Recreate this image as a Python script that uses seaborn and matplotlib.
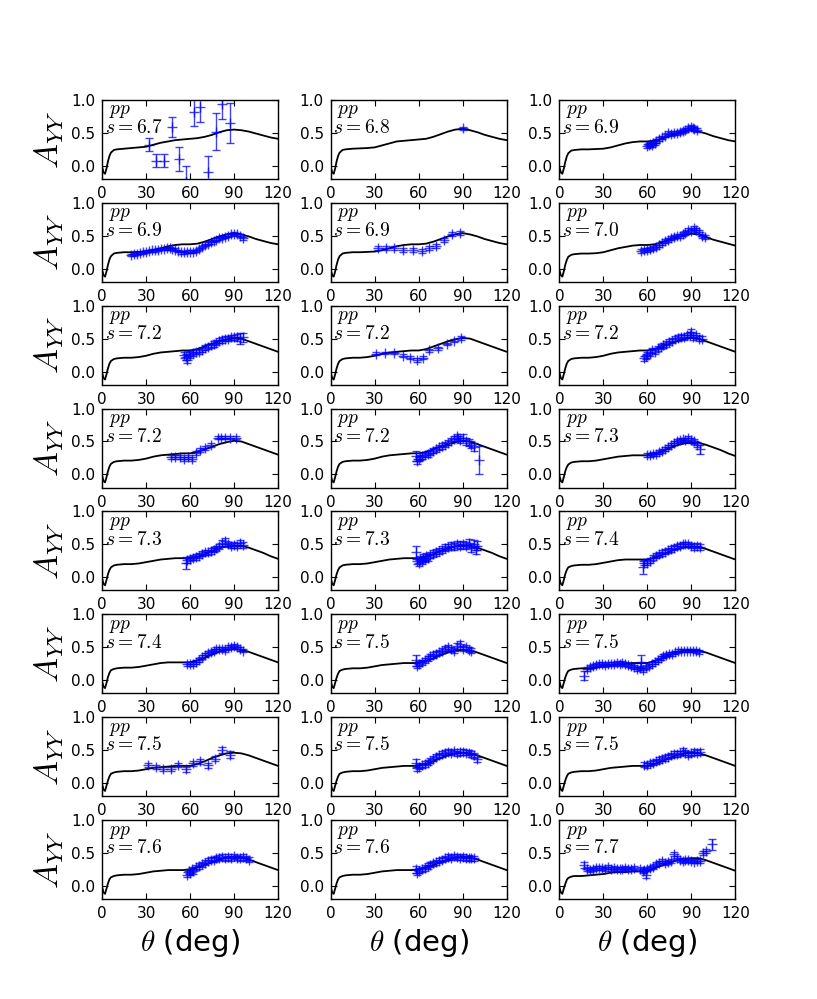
import matplotlib
matplotlib.use("Agg")
import matplotlib.pyplot as plt
import seaborn as sns
import numpy as np
import pandas as pd

# ---------------- data ----------------
theta_grid = [0, 1, 2, 3, 4, 5, 6, 8, 10, 15, 20, 25, 30, 35, 40, 45, 50, 55, 60,
              65, 70, 75, 80, 85, 90, 95, 100, 105, 110, 115, 120]

curve_67 = [-0.02, -0.10, -0.12, -0.04, 0.07, 0.15, 0.20, 0.24, 0.25, 0.26, 0.27, 0.28, 0.29, 0.32, 0.35, 0.37, 0.39, 0.40, 0.41, 0.42, 0.44, 0.47, 0.51, 0.54, 0.55, 0.54, 0.52, 0.49, 0.46, 0.43, 0.41]
curve_68 = [-0.02, -0.10, -0.12, -0.04, 0.07, 0.15, 0.20, 0.24, 0.25, 0.26, 0.265, 0.27, 0.28, 0.31, 0.34, 0.37, 0.38, 0.39, 0.40, 0.41, 0.44, 0.48, 0.52, 0.55, 0.56, 0.54, 0.51, 0.47, 0.44, 0.41, 0.39]
curve_69 = [-0.02, -0.10, -0.12, -0.04, 0.06, 0.14, 0.19, 0.23, 0.24, 0.25, 0.25, 0.255, 0.26, 0.28, 0.31, 0.34, 0.36, 0.37, 0.37, 0.38, 0.41, 0.45, 0.49, 0.52, 0.54, 0.52, 0.49, 0.45, 0.42, 0.39, 0.37]
curve_70 = [-0.02, -0.10, -0.12, -0.04, 0.06, 0.13, 0.18, 0.21, 0.22, 0.23, 0.23, 0.235, 0.25, 0.28, 0.31, 0.33, 0.35, 0.36, 0.36, 0.37, 0.40, 0.44, 0.48, 0.51, 0.53, 0.52, 0.48, 0.44, 0.41, 0.38, 0.35]
curve_72 = [-0.02, -0.10, -0.12, -0.04, 0.05, 0.12, 0.16, 0.19, 0.20, 0.21, 0.21, 0.22, 0.24, 0.27, 0.29, 0.30, 0.31, 0.32, 0.32, 0.34, 0.38, 0.42, 0.46, 0.49, 0.51, 0.50, 0.46, 0.42, 0.38, 0.34, 0.30]
curve_73 = [-0.02, -0.10, -0.12, -0.04, 0.05, 0.11, 0.15, 0.18, 0.19, 0.20, 0.20, 0.21, 0.23, 0.25, 0.27, 0.28, 0.29, 0.29, 0.29, 0.31, 0.35, 0.40, 0.44, 0.47, 0.48, 0.48, 0.45, 0.41, 0.37, 0.32, 0.28]
curve_74 = [-0.02, -0.10, -0.12, -0.04, 0.05, 0.11, 0.15, 0.17, 0.18, 0.19, 0.19, 0.20, 0.22, 0.24, 0.26, 0.27, 0.27, 0.27, 0.27, 0.30, 0.34, 0.39, 0.43, 0.46, 0.47, 0.46, 0.43, 0.39, 0.35, 0.31, 0.27]
curve_75 = [-0.02, -0.10, -0.12, -0.04, 0.04, 0.10, 0.14, 0.16, 0.17, 0.18, 0.18, 0.19, 0.21, 0.23, 0.24, 0.25, 0.26, 0.26, 0.26, 0.29, 0.33, 0.38, 0.42, 0.45, 0.46, 0.45, 0.42, 0.38, 0.34, 0.30, 0.26]
curve_76 = [-0.02, -0.10, -0.12, -0.04, 0.04, 0.10, 0.13, 0.15, 0.16, 0.17, 0.17, 0.18, 0.20, 0.22, 0.23, 0.24, 0.24, 0.24, 0.25, 0.28, 0.32, 0.36, 0.40, 0.43, 0.44, 0.43, 0.40, 0.36, 0.32, 0.28, 0.24]
curve_77 = [-0.02, -0.10, -0.12, -0.04, 0.03, 0.09, 0.12, 0.14, 0.15, 0.15, 0.16, 0.17, 0.18, 0.20, 0.21, 0.21, 0.22, 0.22, 0.23, 0.27, 0.31, 0.35, 0.39, 0.41, 0.42, 0.42, 0.39, 0.35, 0.31, 0.27, 0.23]

energy_labels = ["6.7", "6.8", "6.9", "6.9", "6.9", "7.0",
                 "7.2", "7.2", "7.2", "7.2", "7.2", "7.3",
                 "7.3", "7.3", "7.4", "7.4", "7.5", "7.5",
                 "7.5", "7.5", "7.5", "7.6", "7.6", "7.7"]

curves = {"6.7": curve_67, "6.8": curve_68, "6.9": curve_69, "7.0": curve_70,
          "7.2": curve_72, "7.3": curve_73, "7.4": curve_74, "7.5": curve_75,
          "7.6": curve_76, "7.7": curve_77}

# measured points (theta, A_YY, error)
p01 = [(32, 0.32, 0.10), (37, 0.08, 0.10), (42, 0.08, 0.10), (47.5, 0.59, 0.15), (52.5, 0.10, 0.18),
       (57.5, -0.25, 0.25), (62.5, 0.82, 0.22), (67, 0.89, 0.23), (72.5, -0.10, 0.25),
       (77.5, 0.52, 0.28), (82, 0.94, 0.23), (87, 0.65, 0.30)]
p02 = [(90, 0.57, 0.02)]
p03 = [(60, 0.30, 0.03), (61, 0.31, 0.03), (62, 0.33, 0.03), (63, 0.31, 0.03), (64, 0.34, 0.03),
       (65, 0.35, 0.03), (66, 0.37, 0.03), (68, 0.40, 0.03), (70, 0.43, 0.03), (72, 0.46, 0.03),
       (74, 0.50, 0.03), (76, 0.48, 0.03), (78, 0.50, 0.03), (80, 0.50, 0.03), (82, 0.51, 0.03),
       (84, 0.53, 0.03), (86, 0.55, 0.03), (88, 0.57, 0.03), (90, 0.59, 0.03), (91, 0.57, 0.03),
       (92, 0.56, 0.03), (94, 0.54, 0.03)]
p04 = [(20, 0.21, 0.02), (22, 0.22, 0.02), (24, 0.23, 0.02), (26, 0.24, 0.02), (28, 0.25, 0.02),
       (30, 0.26, 0.02), (32, 0.27, 0.02), (34, 0.28, 0.02), (36, 0.28, 0.02), (38, 0.29, 0.02),
       (40, 0.30, 0.02), (42, 0.30, 0.02), (44, 0.31, 0.02), (46, 0.31, 0.02), (48, 0.30, 0.02),
       (50, 0.29, 0.02), (52, 0.27, 0.02), (54, 0.25, 0.02), (56, 0.25, 0.02), (58, 0.26, 0.02),
       (60, 0.26, 0.02), (62, 0.26, 0.02), (64, 0.27, 0.02), (66, 0.30, 0.02), (68, 0.33, 0.02),
       (70, 0.36, 0.02), (72, 0.38, 0.02), (74, 0.40, 0.02), (76, 0.42, 0.02), (78, 0.44, 0.02),
       (80, 0.46, 0.02), (82, 0.47, 0.02), (84, 0.48, 0.02), (86, 0.50, 0.02), (88, 0.52, 0.02),
       (90, 0.53, 0.02), (92, 0.52, 0.02), (94, 0.50, 0.02), (96, 0.46, 0.02)]
p05 = [(32, 0.32, 0.03), (38, 0.32, 0.03), (43, 0.31, 0.03), (49, 0.29, 0.03), (56, 0.29, 0.03),
       (62.5, 0.27, 0.03), (67, 0.32, 0.03), (72, 0.35, 0.03), (77, 0.43, 0.03), (83, 0.53, 0.03),
       (88, 0.54, 0.03)]
p06 = [(56, 0.27, 0.03), (58, 0.28, 0.03), (60, 0.29, 0.03), (62, 0.30, 0.03), (64, 0.31, 0.03),
       (66, 0.33, 0.03), (68, 0.36, 0.03), (70, 0.39, 0.03), (72, 0.42, 0.03), (74, 0.44, 0.03),
       (76, 0.46, 0.03), (78, 0.48, 0.03), (80, 0.49, 0.03), (82, 0.50, 0.03), (84, 0.52, 0.03),
       (86, 0.54, 0.03), (88, 0.58, 0.03), (90, 0.57, 0.03), (92, 0.62, 0.03), (93, 0.58, 0.03),
       (95, 0.55, 0.03), (97, 0.50, 0.03), (99, 0.48, 0.03)]
p07 = [(56, 0.25, 0.04), (57, 0.22, 0.04), (58, 0.18, 0.05), (59, 0.27, 0.04), (60, 0.25, 0.04),
       (62, 0.28, 0.04), (64, 0.30, 0.04), (66, 0.30, 0.04), (68, 0.33, 0.04), (70, 0.36, 0.04),
       (72, 0.38, 0.04), (74, 0.40, 0.04), (76, 0.42, 0.04), (78, 0.44, 0.04), (80, 0.47, 0.04),
       (82, 0.48, 0.04), (84, 0.50, 0.04), (86, 0.50, 0.04), (88, 0.52, 0.04), (90, 0.52, 0.04),
       (92, 0.52, 0.05), (94, 0.50, 0.08), (96, 0.52, 0.07)]
p08 = [(31, 0.27, 0.02), (37, 0.28, 0.02), (43, 0.28, 0.02), (49, 0.24, 0.02), (54, 0.21, 0.02),
       (58.5, 0.17, 0.03), (63, 0.21, 0.02), (67, 0.32, 0.02), (73, 0.35, 0.02), (79, 0.42, 0.02),
       (84, 0.47, 0.02), (89, 0.51, 0.03)]
p09 = [(58, 0.20, 0.04), (59, 0.23, 0.04), (60, 0.25, 0.04), (62, 0.28, 0.04), (63, 0.32, 0.04),
       (65, 0.30, 0.04), (67, 0.35, 0.04), (69, 0.38, 0.04), (71, 0.40, 0.04), (73, 0.42, 0.04),
       (75, 0.45, 0.04), (77, 0.47, 0.04), (79, 0.50, 0.04), (81, 0.51, 0.04), (83, 0.53, 0.04),
       (85, 0.52, 0.04), (87, 0.55, 0.04), (89, 0.56, 0.04), (90, 0.60, 0.05), (91, 0.52, 0.04),
       (93, 0.55, 0.04), (95, 0.50, 0.04), (97, 0.50, 0.04)]
p10 = [(47, 0.26, 0.03), (50, 0.26, 0.03), (53, 0.26, 0.03), (56, 0.23, 0.03), (58.5, 0.26, 0.03),
       (61, 0.24, 0.03), (64, 0.33, 0.03), (67, 0.37, 0.03), (70, 0.40, 0.03), (74, 0.45, 0.03),
       (79, 0.56, 0.03), (81, 0.56, 0.03), (84, 0.56, 0.03), (87, 0.56, 0.03), (91, 0.56, 0.03)]
p11 = [(58, 0.28, 0.07), (59, 0.20, 0.04), (60, 0.24, 0.04), (61, 0.26, 0.04), (62, 0.28, 0.04),
       (64, 0.30, 0.04), (66, 0.31, 0.04), (68, 0.33, 0.04), (70, 0.36, 0.04), (72, 0.38, 0.04),
       (74, 0.41, 0.04), (76, 0.43, 0.04), (78, 0.45, 0.04), (80, 0.48, 0.04), (82, 0.51, 0.04),
       (84, 0.54, 0.04), (86, 0.58, 0.04), (87, 0.55, 0.04), (88, 0.52, 0.04), (90, 0.56, 0.05),
       (92, 0.50, 0.05), (94, 0.48, 0.05), (96, 0.45, 0.05), (98, 0.42, 0.06), (101, 0.22, 0.21)]
p12 = [(60, 0.30, 0.03), (62, 0.30, 0.03), (64, 0.31, 0.03), (66, 0.31, 0.03), (68, 0.34, 0.03),
       (70, 0.36, 0.03), (72, 0.38, 0.03), (74, 0.42, 0.03), (76, 0.45, 0.03), (78, 0.48, 0.03),
       (80, 0.50, 0.03), (82, 0.52, 0.03), (84, 0.53, 0.03), (86, 0.52, 0.03), (88, 0.55, 0.04),
       (90, 0.52, 0.04), (92, 0.50, 0.04), (94, 0.45, 0.04), (96, 0.38, 0.07)]
p13 = [(57, 0.22, 0.09), (58, 0.26, 0.04), (60, 0.28, 0.04), (62, 0.30, 0.04), (64, 0.31, 0.04),
       (66, 0.33, 0.04), (68, 0.36, 0.04), (70, 0.38, 0.04), (72, 0.38, 0.04), (74, 0.40, 0.04),
       (76, 0.42, 0.04), (78, 0.44, 0.04), (80, 0.47, 0.04), (82, 0.52, 0.04), (84, 0.55, 0.04),
       (86, 0.50, 0.04), (88, 0.48, 0.04), (90, 0.49, 0.04), (92, 0.48, 0.04), (94, 0.52, 0.05),
       (96, 0.49, 0.05)]
p14 = [(58, 0.38, 0.10), (59, 0.25, 0.05), (60, 0.22, 0.05), (61, 0.28, 0.05), (62, 0.25, 0.05),
       (63, 0.30, 0.05), (64, 0.28, 0.05), (65, 0.32, 0.05), (66, 0.30, 0.05), (68, 0.34, 0.05),
       (70, 0.36, 0.05), (72, 0.38, 0.05), (74, 0.40, 0.05), (76, 0.42, 0.05), (78, 0.45, 0.05),
       (80, 0.46, 0.05), (82, 0.48, 0.05), (84, 0.47, 0.05), (86, 0.50, 0.05), (88, 0.48, 0.05),
       (90, 0.50, 0.05), (92, 0.48, 0.05), (94, 0.52, 0.06), (96, 0.45, 0.06), (98, 0.50, 0.06),
       (99, 0.42, 0.06), (100, 0.48, 0.07)]
p15 = [(57, 0.15, 0.10), (58, 0.22, 0.04), (60, 0.22, 0.04), (62, 0.25, 0.04), (64, 0.30, 0.04),
       (66, 0.33, 0.04), (68, 0.35, 0.04), (70, 0.37, 0.04), (72, 0.39, 0.04), (74, 0.41, 0.04),
       (76, 0.43, 0.04), (78, 0.45, 0.04), (80, 0.47, 0.04), (82, 0.48, 0.04), (84, 0.50, 0.04),
       (86, 0.50, 0.04), (88, 0.50, 0.04), (90, 0.48, 0.04), (92, 0.46, 0.04), (94, 0.48, 0.04),
       (96, 0.46, 0.04)]
p16 = [(58, 0.25, 0.03), (60, 0.25, 0.03), (62, 0.24, 0.03), (64, 0.27, 0.03), (66, 0.30, 0.03),
       (68, 0.35, 0.03), (70, 0.38, 0.03), (72, 0.41, 0.03), (74, 0.43, 0.03), (76, 0.45, 0.03),
       (78, 0.47, 0.03), (80, 0.47, 0.03), (82, 0.48, 0.03), (84, 0.46, 0.03), (86, 0.50, 0.03),
       (88, 0.50, 0.03), (90, 0.52, 0.03), (92, 0.50, 0.03), (94, 0.48, 0.03), (96, 0.45, 0.03)]
p17 = [(58, 0.30, 0.08), (59, 0.22, 0.04), (60, 0.25, 0.04), (62, 0.27, 0.04), (64, 0.30, 0.04),
       (66, 0.33, 0.04), (68, 0.36, 0.04), (70, 0.38, 0.04), (72, 0.40, 0.04), (74, 0.42, 0.04),
       (76, 0.45, 0.04), (78, 0.48, 0.04), (80, 0.50, 0.04), (82, 0.47, 0.04), (84, 0.45, 0.04),
       (86, 0.52, 0.04), (88, 0.55, 0.05), (90, 0.48, 0.04), (92, 0.50, 0.04), (94, 0.46, 0.04),
       (96, 0.45, 0.04)]
p18 = [(17, 0.07, 0.07), (19, 0.17, 0.03), (21, 0.20, 0.03), (23, 0.22, 0.03), (25, 0.23, 0.03),
       (27, 0.24, 0.03), (29, 0.24, 0.03), (31, 0.23, 0.03), (33, 0.25, 0.03), (35, 0.25, 0.03),
       (37, 0.24, 0.03), (39, 0.26, 0.03), (41, 0.25, 0.03), (43, 0.26, 0.03), (45, 0.24, 0.03),
       (47, 0.23, 0.03), (49, 0.22, 0.03), (51, 0.20, 0.03), (53, 0.17, 0.03), (55, 0.18, 0.03),
       (56, 0.28, 0.10), (57, 0.15, 0.03), (59, 0.20, 0.03), (61, 0.22, 0.03), (63, 0.25, 0.03),
       (65, 0.28, 0.03), (67, 0.30, 0.03), (69, 0.34, 0.03), (71, 0.36, 0.03), (73, 0.38, 0.03),
       (75, 0.40, 0.03), (77, 0.40, 0.03), (79, 0.42, 0.03), (81, 0.44, 0.03), (83, 0.45, 0.03),
       (85, 0.45, 0.03), (87, 0.45, 0.03), (89, 0.45, 0.03), (91, 0.45, 0.03), (93, 0.44, 0.03),
       (95, 0.43, 0.03)]
p19 = [(31, 0.27, 0.03), (36.5, 0.24, 0.03), (41.5, 0.22, 0.03), (47, 0.22, 0.03), (51.5, 0.28, 0.03),
       (57, 0.21, 0.04), (62, 0.30, 0.04), (67, 0.33, 0.04), (72, 0.27, 0.04), (77, 0.37, 0.04),
       (82, 0.50, 0.05), (87.5, 0.43, 0.05)]
p20 = [(58, 0.30, 0.06), (59, 0.23, 0.04), (60, 0.25, 0.04), (62, 0.27, 0.04), (64, 0.29, 0.04),
       (66, 0.31, 0.04), (68, 0.34, 0.04), (70, 0.37, 0.04), (72, 0.40, 0.04), (74, 0.42, 0.04),
       (76, 0.44, 0.04), (78, 0.46, 0.04), (80, 0.47, 0.04), (82, 0.46, 0.04), (84, 0.48, 0.04),
       (86, 0.45, 0.04), (88, 0.47, 0.04), (90, 0.47, 0.04), (92, 0.46, 0.04), (94, 0.46, 0.04),
       (96, 0.44, 0.04), (98, 0.42, 0.04), (100, 0.36, 0.04)]
p21 = [(58, 0.28, 0.04), (60, 0.27, 0.04), (62, 0.30, 0.04), (64, 0.31, 0.04), (66, 0.33, 0.04),
       (68, 0.35, 0.04), (70, 0.37, 0.04), (72, 0.38, 0.04), (74, 0.40, 0.04), (76, 0.42, 0.04),
       (78, 0.44, 0.04), (80, 0.44, 0.04), (82, 0.45, 0.04), (84, 0.48, 0.05), (86, 0.46, 0.04),
       (88, 0.43, 0.04), (90, 0.45, 0.04), (92, 0.47, 0.04), (94, 0.46, 0.04), (96, 0.47, 0.04)]
p22 = [(58, 0.17, 0.04), (59, 0.22, 0.04), (60, 0.20, 0.04), (61, 0.25, 0.04), (62, 0.22, 0.04),
       (64, 0.28, 0.04), (66, 0.30, 0.04), (68, 0.33, 0.04), (70, 0.35, 0.04), (72, 0.38, 0.04),
       (74, 0.40, 0.04), (76, 0.40, 0.04), (78, 0.42, 0.04), (80, 0.43, 0.04), (82, 0.44, 0.04),
       (84, 0.42, 0.04), (86, 0.44, 0.04), (88, 0.42, 0.04), (90, 0.45, 0.04), (92, 0.43, 0.04),
       (94, 0.42, 0.04), (96, 0.44, 0.04), (98, 0.42, 0.04), (100, 0.40, 0.04)]
p23 = [(58, 0.25, 0.05), (59, 0.20, 0.04), (60, 0.23, 0.04), (62, 0.25, 0.04), (64, 0.27, 0.04),
       (66, 0.30, 0.04), (68, 0.32, 0.04), (70, 0.34, 0.04), (72, 0.36, 0.04), (74, 0.38, 0.04),
       (76, 0.40, 0.04), (78, 0.42, 0.04), (80, 0.44, 0.04), (82, 0.43, 0.04), (84, 0.45, 0.04),
       (86, 0.44, 0.04), (88, 0.43, 0.04), (90, 0.44, 0.04), (92, 0.42, 0.04), (94, 0.43, 0.04),
       (96, 0.42, 0.04), (98, 0.42, 0.04)]
p24 = [(17, 0.32, 0.05), (19, 0.25, 0.03), (21, 0.24, 0.03), (23, 0.26, 0.03), (25, 0.27, 0.03),
       (27, 0.27, 0.03), (29, 0.27, 0.03), (31, 0.26, 0.03), (33, 0.28, 0.03), (35, 0.26, 0.03),
       (37, 0.27, 0.03), (39, 0.26, 0.03), (41, 0.26, 0.03), (43, 0.25, 0.03), (45, 0.27, 0.03),
       (47, 0.26, 0.03), (49, 0.26, 0.03), (51, 0.27, 0.03), (55, 0.25, 0.03), (57, 0.22, 0.03),
       (58, 0.24, 0.03), (59, 0.17, 0.05), (60, 0.25, 0.03), (62, 0.27, 0.03), (64, 0.29, 0.03),
       (66, 0.33, 0.03), (68, 0.35, 0.03), (70, 0.38, 0.03), (72, 0.35, 0.03), (74, 0.36, 0.03),
       (76, 0.38, 0.03), (78, 0.48, 0.03), (80, 0.42, 0.03), (82, 0.40, 0.03), (84, 0.38, 0.03),
       (86, 0.39, 0.03), (88, 0.39, 0.03), (90, 0.38, 0.03), (92, 0.37, 0.03), (94, 0.38, 0.03),
       (96, 0.38, 0.03), (98, 0.50, 0.03), (100, 0.53, 0.03), (104, 0.63, 0.08)]

panels = [p01, p02, p03, p04, p05, p06, p07, p08, p09, p10, p11, p12,
          p13, p14, p15, p16, p17, p18, p19, p20, p21, p22, p23, p24]

x_ticks = [0, 30, 60, 90, 120]
y_ticks = [0.0, 0.5, 1.0]

# ---------------- style ----------------
sns.set_style("ticks")
plt.rcParams.update({
    "font.family": ["DejaVu Sans"],
    "mathtext.fontset": "cm",
    "text.color": "black",
    "axes.labelcolor": "black",
    "xtick.direction": "in",
    "ytick.direction": "in",
    "xtick.top": True,
    "ytick.right": True,
    "xtick.major.size": 4,
    "ytick.major.size": 4,
    "xtick.major.pad": 5,
    "ytick.major.pad": 5,
    "xtick.labelsize": 11,
    "ytick.labelsize": 11,
    "axes.edgecolor": "black",
    "axes.linewidth": 1.0,
    "xtick.color": "black",
    "ytick.color": "black",
})

fig, axes = plt.subplots(8, 3, figsize=(8.17, 9.99), dpi=100)
fig.subplots_adjust(left=0.125, right=0.9, bottom=0.1, top=0.9, wspace=0.3, hspace=0.3)

for i, ax in enumerate(axes.flat):
    lab = energy_labels[i]
    cdf = pd.DataFrame({"theta": theta_grid, "ayy": curves[lab]})
    sns.lineplot(data=cdf, x="theta", y="ayy", ax=ax, color="black", lw=1.3)
    pts = pd.DataFrame(panels[i], columns=["theta", "ayy", "err"])
    ax.errorbar(pts["theta"], pts["ayy"], yerr=pts["err"], fmt="+", color="blue",
                ecolor="blue", ms=7, mew=1.0, elinewidth=1.0, capsize=3, alpha=0.75)
    ax.set_xlim(0, 120)
    ax.set_ylim(-0.2, 1.0)
    ax.set_xticks(x_ticks)
    ax.set_yticks(y_ticks)
    ax.set_yticklabels(["0.0", "0.5", "1.0"])
    ax.set_xlabel("")
    ax.set_ylabel("")
    ax.text(0.015, 0.98, r"$\;pp$" + "\n" + r"$s=" + lab + r"$", transform=ax.transAxes,
            ha="left", va="top", fontsize=14, linespacing=0.85)
    r, c = divmod(i, 3)
    if c == 0:
        ax.set_ylabel(r"$A_{YY}$", fontsize=24)
    if r == 7:
        ax.set_xlabel(r"$\theta$ (deg)", fontsize=21)

fig.savefig("out.png", dpi=100, facecolor="white")
